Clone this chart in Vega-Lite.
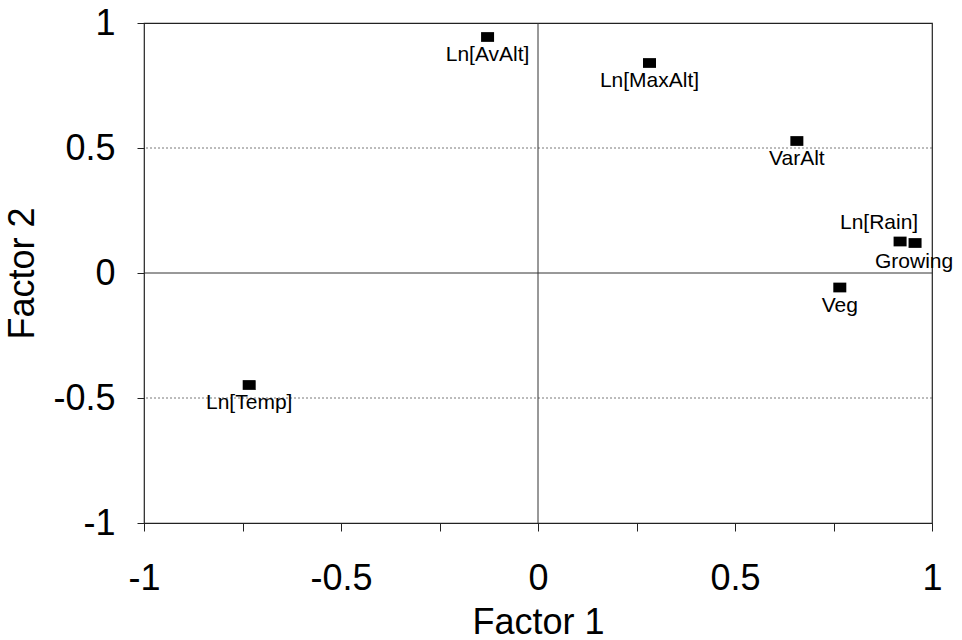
{
  "$schema": "https://vega.github.io/schema/vega-lite/v6.json",
  "width": 788,
  "height": 500,
  "autosize": {"type": "none"},
  "padding": {"left": 144, "top": 23, "right": 30, "bottom": 117},
  "background": "white",
  "config": {
    "view": {"stroke": "#222", "strokeWidth": 1.2},
    "font": "Liberation Sans"
  },
  "datasets": {
    "pts": [
      {"name": "Ln[AvAlt]", "f1": -0.128, "f2": 0.944},
      {"name": "Ln[MaxAlt]", "f1": 0.283, "f2": 0.84},
      {"name": "VarAlt", "f1": 0.657, "f2": 0.528},
      {"name": "Ln[Rain]", "f1": 0.919, "f2": 0.126},
      {"name": "Growing", "f1": 0.957, "f2": 0.12},
      {"name": "Veg", "f1": 0.766, "f2": -0.058},
      {"name": "Ln[Temp]", "f1": -0.733, "f2": -0.448}
    ],
    "grid": [{"g": -0.5}, {"g": 0.5}]
  },
  "layer": [
    {
      "data": {"name": "grid"},
      "mark": {"type": "rule", "stroke": "#555", "strokeWidth": 0.8, "strokeDash": [2, 2]},
      "encoding": {
        "y": {"field": "g", "type": "quantitative", "scale": {"domain": [-1, 1]}}
      }
    },
    {
      "data": {"values": [{}]},
      "mark": {"type": "rule", "stroke": "#333", "strokeWidth": 1},
      "encoding": {"y": {"datum": 0, "type": "quantitative"}}
    },
    {
      "data": {"values": [{}]},
      "mark": {"type": "rule", "stroke": "#333", "strokeWidth": 1},
      "encoding": {"x": {"datum": 0, "type": "quantitative"}}
    },
    {
      "data": {"name": "pts"},
      "mark": {"type": "point", "shape": "M-1,-0.75L1,-0.75L1,0.75L-1,0.75Z", "filled": true, "color": "black", "opacity": 1, "size": 169},
      "encoding": {
        "x": {
          "field": "f1", "type": "quantitative",
          "scale": {"domain": [-1, 1], "nice": false, "zero": false},
          "axis": {
            "title": "Factor 1",
            "values": [-1, -0.75, -0.5, -0.25, 0, 0.25, 0.5, 0.75, 1],
            "labelExpr": "datum.value % 0.5 === 0 ? '' + datum.value : ''",
            "grid": false,
            "domain": false,
            "ticks": true,
            "tickSize": 8,
            "tickColor": "#222",
            "labelFontSize": 36,
            "labelColor": "black",
            "labelPadding": 30,
            "labelFlush": false,
            "titleFontSize": 36,
            "titleFontWeight": "normal",
            "titleColor": "black",
            "titlePadding": 9
          }
        },
        "y": {
          "field": "f2", "type": "quantitative",
          "scale": {"domain": [-1, 1], "nice": false, "zero": false},
          "axis": {
            "title": "Factor 2",
            "values": [-1, -0.5, 0, 0.5, 1],
            "labelExpr": "'' + datum.value",
            "grid": false,
            "domain": false,
            "tickSize": 7,
            "tickColor": "#222",
            "labelFontSize": 36,
            "labelColor": "black",
            "labelPadding": 22,
            "labelFlush": false,
            "titleFontSize": 36,
            "titleFontWeight": "normal",
            "titleColor": "black",
            "titlePadding": 11
          }
        }
      }
    },
    {
      "data": {"name": "pts"},
      "transform": [{"filter": "datum.name !== 'Ln[Rain]' && datum.name !== 'Growing'"}],
      "mark": {"type": "text", "fontSize": 21, "color": "black", "baseline": "middle", "dy": 18},
      "encoding": {
        "x": {"field": "f1", "type": "quantitative"},
        "y": {"field": "f2", "type": "quantitative"},
        "text": {"field": "name"}
      }
    },
    {
      "data": {"name": "pts"},
      "transform": [{"filter": "datum.name === 'Ln[Rain]'"}],
      "mark": {"type": "text", "fontSize": 21, "color": "black", "baseline": "middle", "dy": -19, "dx": -21},
      "encoding": {
        "x": {"field": "f1", "type": "quantitative"},
        "y": {"field": "f2", "type": "quantitative"},
        "text": {"field": "name"}
      }
    },
    {
      "data": {"name": "pts"},
      "transform": [{"filter": "datum.name === 'Growing'"}],
      "mark": {"type": "text", "fontSize": 21, "color": "black", "baseline": "middle", "dy": 19, "dx": -1},
      "encoding": {
        "x": {"field": "f1", "type": "quantitative"},
        "y": {"field": "f2", "type": "quantitative"},
        "text": {"field": "name"}
      }
    }
  ]
}
